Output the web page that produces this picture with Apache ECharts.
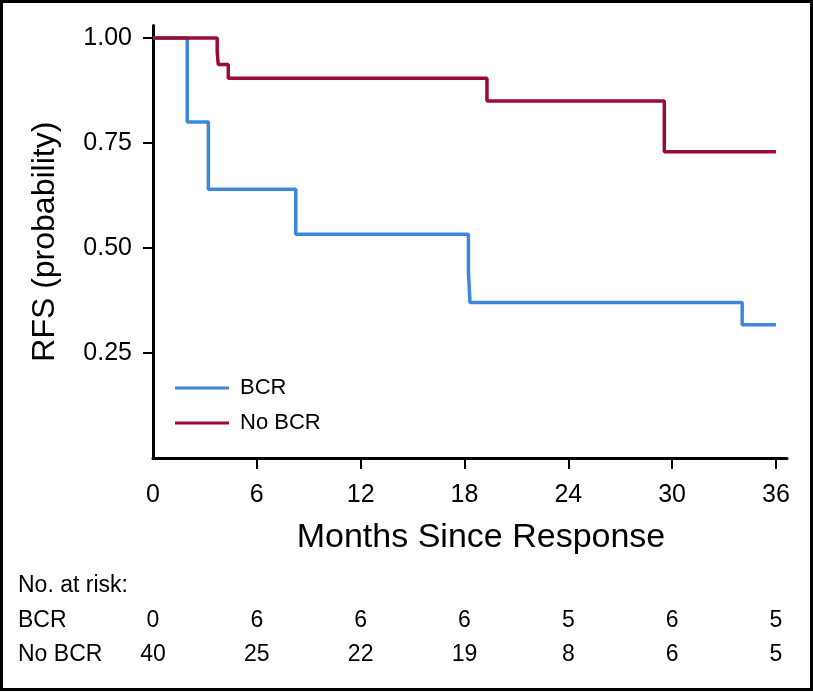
<!DOCTYPE html>
<html>
<head>
<meta charset="utf-8">
<script src="https://cdn.jsdelivr.net/npm/echarts@6/dist/echarts.min.js"></script>
<style>
html,body{margin:0;padding:0;background:#fff;}
#c{width:813px;height:692px;}
</style>
</head>
<body>
<div id="c"></div>
<script>
const seriesNames = ['BCR', 'No BCR'];
const bcrCurve = [[0,1],[1.98,0.80],[3.2,0.64],[8.25,0.533],[18.23,0.444],[18.32,0.37],[34.05,0.317],[36,0.317]];
const noBcrCurve = [[0,1],[3.71,0.967],[3.77,0.937],[4.35,0.904],[19.3,0.850],[29.55,0.729],[36,0.729]];
const xTicks = [0,6,12,18,24,30,36];
const yTicks = [0.25,0.50,0.75,1.00];
const riskBCR = [0,6,6,6,5,6,5];
const riskNoBCR = [40,25,22,19,8,6,5];

const FONT = "'Liberation Sans', Arial, sans-serif";
const colors = ['#3C87DB', '#9C0B36'];

const riskData = [];
xTicks.forEach((t,i)=>{ riskData.push([t,'BCR',riskBCR[i]]); riskData.push([t,'No BCR',riskNoBCR[i]]); });

const chart = echarts.init(document.getElementById('c'));
chart.setOption({
  animation:false,
  backgroundColor:'#fff',
  textStyle:{fontFamily:FONT},
  grid:[
    {left:153, right:26, top:25.4, bottom:234},
    {left:153, right:26, top:604, height:68}
  ],
  xAxis:[
    {type:'value', gridIndex:0, min:0, max:36.64,
     name:'Months Since Response', nameLocation:'middle', nameGap:63,
     nameTextStyle:{fontSize:34, color:'#000', fontFamily:FONT, padding:[0,0,0,22]},
     axisLine:{show:true, lineStyle:{color:'#000', width:3}},
     axisTick:{show:true, length:11, lineStyle:{color:'#000', width:2}, customValues:[6,12,18,24,30,36]},
     axisLabel:{fontSize:25, color:'#000', margin:25, customValues:xTicks},
     splitLine:{show:false}},
    {type:'value', gridIndex:1, min:0, max:36.64, show:false}
  ],
  yAxis:[
    {type:'value', gridIndex:0, min:0, max:1.03,
     name:'RFS (probability)', nameLocation:'middle', nameGap:92,
     nameTextStyle:{fontSize:32, color:'#000', fontFamily:FONT},
     axisLine:{show:true, lineStyle:{color:'#000', width:3}},
     axisTick:{show:true, length:10, lineStyle:{color:'#000', width:2}, customValues:yTicks},
     axisLabel:{fontSize:25, color:'#000', margin:21, customValues:yTicks, formatter:v=>v.toFixed(2)},
     splitLine:{show:false}},
    {type:'category', gridIndex:1, data:seriesNames, inverse:true,
     axisLine:{show:false}, axisTick:{show:false}, splitLine:{show:false},
     axisLabel:{fontSize:23, color:'#000', align:'left', margin:135}}
  ],
  legend:{
    orient:'vertical', left:170, top:372, itemWidth:54, itemHeight:3, itemGap:13,
    icon:'rect',
    textStyle:{fontSize:22, color:'#000', fontFamily:FONT, padding:[0,0,0,6]},
    data:seriesNames
  },
  series:[
    {name:'BCR', type:'line', step:'end', data:bcrCurve, showSymbol:false, symbol:'none',
     xAxisIndex:0, yAxisIndex:0, lineStyle:{color:colors[0], width:3.5}, itemStyle:{color:colors[0]}},
    {name:'No BCR', type:'line', step:'end', data:noBcrCurve, showSymbol:false, symbol:'none',
     xAxisIndex:0, yAxisIndex:0, lineStyle:{color:colors[1], width:3.5}, itemStyle:{color:colors[1]}},
    {type:'scatter', xAxisIndex:1, yAxisIndex:1, data:riskData, symbolSize:0,
     itemStyle:{color:'#000', opacity:1}, silent:true,
     label:{show:true, position:'inside', fontSize:23, color:'#000', fontFamily:FONT, formatter:p=>String(p.value[2])}}
  ],
  graphic:[
    {type:'text', left:18, top:574, style:{text:'No. at risk:', fontSize:23, fill:'#000', fontFamily:FONT}},
    {type:'rect', shape:{x:1.5, y:1.5, width:810, height:688}, style:{fill:'none', stroke:'#000', lineWidth:3}, silent:true}
  ]
});
</script>
</body>
</html>
